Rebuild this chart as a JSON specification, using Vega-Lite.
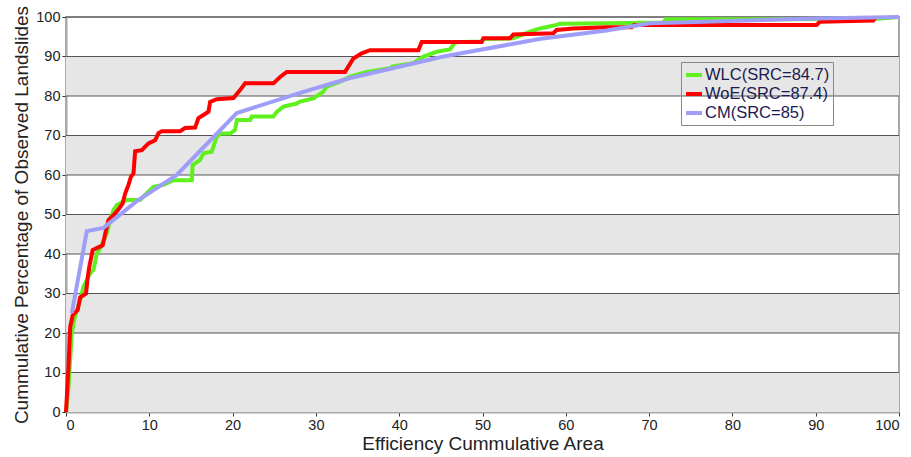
{
  "$schema": "https://vega.github.io/schema/vega-lite/v6.json",
  "width": 833,
  "height": 395,
  "autosize": {"type": "none"},
  "padding": {"left": 66, "top": 17, "right": 12, "bottom": 45},
  "background": "white",
  "config": {
    "view": {"stroke": "#a8a8a8", "strokeWidth": 2},
    "font": "Liberation Sans",
    "axis": {
      "grid": false,
      "domainColor": "#a8a8a8",
      "domainWidth": 2,
      "tickColor": "#333333",
      "tickSize": 4,
      "labelFontSize": 14.5,
      "labelColor": "#222222",
      "labelPadding": 2,
      "titleFontWeight": "normal",
      "titleColor": "#222222",
      "values": [0, 10, 20, 30, 40, 50, 60, 70, 80, 90, 100]
    },
    "axisY": {"titlePadding": 4, "titleFontSize": 19},
    "axisX": {"titlePadding": 3, "titleFontSize": 19}
  },
  "datasets": {
    "bands": [
      {"lo": 0, "hi": 10}, {"lo": 20, "hi": 30}, {"lo": 40, "hi": 50}, {"lo": 60, "hi": 70}, {"lo": 80, "hi": 90}
    ],
    "grid": [
      {"v": 10}, {"v": 20}, {"v": 30}, {"v": 40}, {"v": 50}, {"v": 60}, {"v": 70}, {"v": 80}, {"v": 90}, {"v": 100}
    ],
    "curves": [
      {"s": "WLC(SRC=84.7)", "x": 0, "y": 0},
      {"s": "WLC(SRC=84.7)", "x": 0.3, "y": 6.4},
      {"s": "WLC(SRC=84.7)", "x": 0.7, "y": 20},
      {"s": "WLC(SRC=84.7)", "x": 1.0, "y": 23.6},
      {"s": "WLC(SRC=84.7)", "x": 1.7, "y": 28.3},
      {"s": "WLC(SRC=84.7)", "x": 2.1, "y": 31.7},
      {"s": "WLC(SRC=84.7)", "x": 2.9, "y": 35.1},
      {"s": "WLC(SRC=84.7)", "x": 3.3, "y": 36},
      {"s": "WLC(SRC=84.7)", "x": 3.7, "y": 40.1},
      {"s": "WLC(SRC=84.7)", "x": 4.1, "y": 41.4},
      {"s": "WLC(SRC=84.7)", "x": 4.9, "y": 45.2},
      {"s": "WLC(SRC=84.7)", "x": 5.3, "y": 48.6},
      {"s": "WLC(SRC=84.7)", "x": 5.7, "y": 51.1},
      {"s": "WLC(SRC=84.7)", "x": 6.1, "y": 52.4},
      {"s": "WLC(SRC=84.7)", "x": 7.3, "y": 53.7},
      {"s": "WLC(SRC=84.7)", "x": 8.9, "y": 53.7},
      {"s": "WLC(SRC=84.7)", "x": 9.7, "y": 55.4},
      {"s": "WLC(SRC=84.7)", "x": 10.5, "y": 57},
      {"s": "WLC(SRC=84.7)", "x": 11.7, "y": 57.5},
      {"s": "WLC(SRC=84.7)", "x": 12.9, "y": 58.7},
      {"s": "WLC(SRC=84.7)", "x": 15.1, "y": 58.7},
      {"s": "WLC(SRC=84.7)", "x": 15.2, "y": 62.5},
      {"s": "WLC(SRC=84.7)", "x": 16.1, "y": 63.8},
      {"s": "WLC(SRC=84.7)", "x": 16.5, "y": 65.5},
      {"s": "WLC(SRC=84.7)", "x": 17.5, "y": 65.9},
      {"s": "WLC(SRC=84.7)", "x": 18.1, "y": 69.7},
      {"s": "WLC(SRC=84.7)", "x": 18.6, "y": 70.5},
      {"s": "WLC(SRC=84.7)", "x": 19.7, "y": 70.5},
      {"s": "WLC(SRC=84.7)", "x": 20.3, "y": 71.4},
      {"s": "WLC(SRC=84.7)", "x": 20.5, "y": 73.9},
      {"s": "WLC(SRC=84.7)", "x": 22.1, "y": 73.9},
      {"s": "WLC(SRC=84.7)", "x": 22.3, "y": 74.8},
      {"s": "WLC(SRC=84.7)", "x": 24.9, "y": 74.8},
      {"s": "WLC(SRC=84.7)", "x": 25.3, "y": 76},
      {"s": "WLC(SRC=84.7)", "x": 26.1, "y": 77.3},
      {"s": "WLC(SRC=84.7)", "x": 27.7, "y": 78.1},
      {"s": "WLC(SRC=84.7)", "x": 28.1, "y": 78.6},
      {"s": "WLC(SRC=84.7)", "x": 29.7, "y": 79.4},
      {"s": "WLC(SRC=84.7)", "x": 30.9, "y": 81.1},
      {"s": "WLC(SRC=84.7)", "x": 31.3, "y": 82.4},
      {"s": "WLC(SRC=84.7)", "x": 32.9, "y": 83.6},
      {"s": "WLC(SRC=84.7)", "x": 34.1, "y": 84.9},
      {"s": "WLC(SRC=84.7)", "x": 36.1, "y": 86.1},
      {"s": "WLC(SRC=84.7)", "x": 38.9, "y": 87},
      {"s": "WLC(SRC=84.7)", "x": 39.2, "y": 87.5},
      {"s": "WLC(SRC=84.7)", "x": 41.7, "y": 88.3},
      {"s": "WLC(SRC=84.7)", "x": 42.9, "y": 90},
      {"s": "WLC(SRC=84.7)", "x": 44.5, "y": 91.2},
      {"s": "WLC(SRC=84.7)", "x": 46.1, "y": 91.8},
      {"s": "WLC(SRC=84.7)", "x": 46.7, "y": 93.6},
      {"s": "WLC(SRC=84.7)", "x": 49.9, "y": 93.8},
      {"s": "WLC(SRC=84.7)", "x": 50.2, "y": 94.4},
      {"s": "WLC(SRC=84.7)", "x": 53.7, "y": 94.6},
      {"s": "WLC(SRC=84.7)", "x": 55.7, "y": 96.3},
      {"s": "WLC(SRC=84.7)", "x": 56.9, "y": 97.1},
      {"s": "WLC(SRC=84.7)", "x": 58.9, "y": 98},
      {"s": "WLC(SRC=84.7)", "x": 59.3, "y": 98.3},
      {"s": "WLC(SRC=84.7)", "x": 64.9, "y": 98.4},
      {"s": "WLC(SRC=84.7)", "x": 71.7, "y": 98.6},
      {"s": "WLC(SRC=84.7)", "x": 72, "y": 99.4},
      {"s": "WLC(SRC=84.7)", "x": 97, "y": 99.5},
      {"s": "WLC(SRC=84.7)", "x": 100, "y": 100},
      {"s": "WoE(SRC=87.4)", "x": 0, "y": 0},
      {"s": "WoE(SRC=87.4)", "x": 0.3, "y": 11.4},
      {"s": "WoE(SRC=87.4)", "x": 0.5, "y": 21.5},
      {"s": "WoE(SRC=87.4)", "x": 0.8, "y": 24.5},
      {"s": "WoE(SRC=87.4)", "x": 1.4, "y": 25.8},
      {"s": "WoE(SRC=87.4)", "x": 1.7, "y": 29},
      {"s": "WoE(SRC=87.4)", "x": 2.4, "y": 30},
      {"s": "WoE(SRC=87.4)", "x": 2.6, "y": 34},
      {"s": "WoE(SRC=87.4)", "x": 2.8, "y": 36.8},
      {"s": "WoE(SRC=87.4)", "x": 3.2, "y": 41},
      {"s": "WoE(SRC=87.4)", "x": 4.0, "y": 41.8},
      {"s": "WoE(SRC=87.4)", "x": 4.4, "y": 42.2},
      {"s": "WoE(SRC=87.4)", "x": 4.8, "y": 46},
      {"s": "WoE(SRC=87.4)", "x": 5.1, "y": 48.6},
      {"s": "WoE(SRC=87.4)", "x": 5.9, "y": 50.3},
      {"s": "WoE(SRC=87.4)", "x": 6.4, "y": 51.6},
      {"s": "WoE(SRC=87.4)", "x": 6.8, "y": 52.8},
      {"s": "WoE(SRC=87.4)", "x": 7.1, "y": 55.3},
      {"s": "WoE(SRC=87.4)", "x": 7.5, "y": 57.5},
      {"s": "WoE(SRC=87.4)", "x": 7.8, "y": 59.6},
      {"s": "WoE(SRC=87.4)", "x": 8.1, "y": 60.4},
      {"s": "WoE(SRC=87.4)", "x": 8.3, "y": 66},
      {"s": "WoE(SRC=87.4)", "x": 9.1, "y": 66.3},
      {"s": "WoE(SRC=87.4)", "x": 9.9, "y": 68},
      {"s": "WoE(SRC=87.4)", "x": 10.7, "y": 68.8},
      {"s": "WoE(SRC=87.4)", "x": 11.1, "y": 70.6},
      {"s": "WoE(SRC=87.4)", "x": 11.5, "y": 71.1},
      {"s": "WoE(SRC=87.4)", "x": 13.7, "y": 71.1},
      {"s": "WoE(SRC=87.4)", "x": 14.3, "y": 71.9},
      {"s": "WoE(SRC=87.4)", "x": 15.5, "y": 72},
      {"s": "WoE(SRC=87.4)", "x": 15.9, "y": 74.4},
      {"s": "WoE(SRC=87.4)", "x": 16.5, "y": 75.2},
      {"s": "WoE(SRC=87.4)", "x": 17.1, "y": 76},
      {"s": "WoE(SRC=87.4)", "x": 17.3, "y": 78.5},
      {"s": "WoE(SRC=87.4)", "x": 18.1, "y": 79.2},
      {"s": "WoE(SRC=87.4)", "x": 20.1, "y": 79.5},
      {"s": "WoE(SRC=87.4)", "x": 20.9, "y": 81.5},
      {"s": "WoE(SRC=87.4)", "x": 21.5, "y": 83.2},
      {"s": "WoE(SRC=87.4)", "x": 24.9, "y": 83.2},
      {"s": "WoE(SRC=87.4)", "x": 25.7, "y": 84.8},
      {"s": "WoE(SRC=87.4)", "x": 26.5, "y": 86.1},
      {"s": "WoE(SRC=87.4)", "x": 33.5, "y": 86.1},
      {"s": "WoE(SRC=87.4)", "x": 34.5, "y": 89.5},
      {"s": "WoE(SRC=87.4)", "x": 35.5, "y": 90.8},
      {"s": "WoE(SRC=87.4)", "x": 36.5, "y": 91.6},
      {"s": "WoE(SRC=87.4)", "x": 42.3, "y": 91.6},
      {"s": "WoE(SRC=87.4)", "x": 42.7, "y": 93.7},
      {"s": "WoE(SRC=87.4)", "x": 49.9, "y": 93.7},
      {"s": "WoE(SRC=87.4)", "x": 50.1, "y": 94.6},
      {"s": "WoE(SRC=87.4)", "x": 53.3, "y": 94.6},
      {"s": "WoE(SRC=87.4)", "x": 53.7, "y": 95.6},
      {"s": "WoE(SRC=87.4)", "x": 58.5, "y": 95.9},
      {"s": "WoE(SRC=87.4)", "x": 58.9, "y": 96.7},
      {"s": "WoE(SRC=87.4)", "x": 60.9, "y": 97.1},
      {"s": "WoE(SRC=87.4)", "x": 64.9, "y": 97.4},
      {"s": "WoE(SRC=87.4)", "x": 67.9, "y": 97.4},
      {"s": "WoE(SRC=87.4)", "x": 68.2, "y": 98},
      {"s": "WoE(SRC=87.4)", "x": 90.1, "y": 98},
      {"s": "WoE(SRC=87.4)", "x": 90.5, "y": 98.8},
      {"s": "WoE(SRC=87.4)", "x": 96.9, "y": 99.1},
      {"s": "WoE(SRC=87.4)", "x": 97.2, "y": 99.9},
      {"s": "CM(SRC=85)", "x": 0.7, "y": 25},
      {"s": "CM(SRC=85)", "x": 2.5, "y": 45.8},
      {"s": "CM(SRC=85)", "x": 4.5, "y": 46.6},
      {"s": "CM(SRC=85)", "x": 8.5, "y": 53.4},
      {"s": "CM(SRC=85)", "x": 13.3, "y": 60},
      {"s": "CM(SRC=85)", "x": 20.5, "y": 75.7},
      {"s": "CM(SRC=85)", "x": 28.1, "y": 80.8},
      {"s": "CM(SRC=85)", "x": 34, "y": 84.5},
      {"s": "CM(SRC=85)", "x": 45.3, "y": 90},
      {"s": "CM(SRC=85)", "x": 57, "y": 94.5},
      {"s": "CM(SRC=85)", "x": 64.9, "y": 96.6},
      {"s": "CM(SRC=85)", "x": 70.1, "y": 98.4},
      {"s": "CM(SRC=85)", "x": 90, "y": 99.6},
      {"s": "CM(SRC=85)", "x": 100, "y": 100}
    ]
  },
  "layer": [
    {
      "data": {"name": "bands"},
      "mark": {"type": "rect", "color": "#e6e6e6"},
      "encoding": {
        "y": {"field": "lo", "type": "quantitative", "scale": {"domain": [0, 100], "nice": false, "zero": true}, "title": "Cummulative Percentage of Observed Landslides", "axis": {"values": [0, 10, 20, 30, 40, 50, 60, 70, 80, 90, 100]}},
        "y2": {"field": "hi"}
      }
    },
    {
      "data": {"name": "grid"},
      "mark": {"type": "rule", "color": "#555555", "strokeWidth": 1},
      "encoding": {
        "y": {"field": "v", "type": "quantitative", "title": "Cummulative Percentage of Observed Landslides", "axis": {"values": [0, 10, 20, 30, 40, 50, 60, 70, 80, 90, 100]}}
      }
    },
    {
      "data": {"name": "curves"},
      "mark": {"type": "line", "strokeWidth": 4, "strokeJoin": "miter"},
      "encoding": {
        "x": {"field": "x", "type": "quantitative", "scale": {"domain": [0, 100], "nice": false}, "title": "Efficiency Cummulative Area", "axis": {"values": [0, 10, 20, 30, 40, 50, 60, 70, 80, 90, 100]}},
        "y": {"field": "y", "type": "quantitative", "title": "Cummulative Percentage of Observed Landslides", "axis": {"values": [0, 10, 20, 30, 40, 50, 60, 70, 80, 90, 100]}},
        "color": {
          "field": "s",
          "type": "nominal",
          "sort": null,
          "scale": {"domain": ["WLC(SRC=84.7)", "WoE(SRC=87.4)", "CM(SRC=85)"], "range": ["#5ff01e", "#ff0000", "#9e9ef8"]},
          "legend": {
            "orient": "none",
            "legendX": 615,
            "legendY": 45,
            "title": null,
            "strokeColor": "#888888",
            "padding": 3,
            "symbolType": "stroke",
            "symbolStrokeWidth": 4,
            "symbolSize": 256,
            "labelFontSize": 16.5,
            "labelColor": "#1a1a50",
            "rowPadding": 0,
            "labelOffset": 1
          }
        }
      }
    }
  ]
}
